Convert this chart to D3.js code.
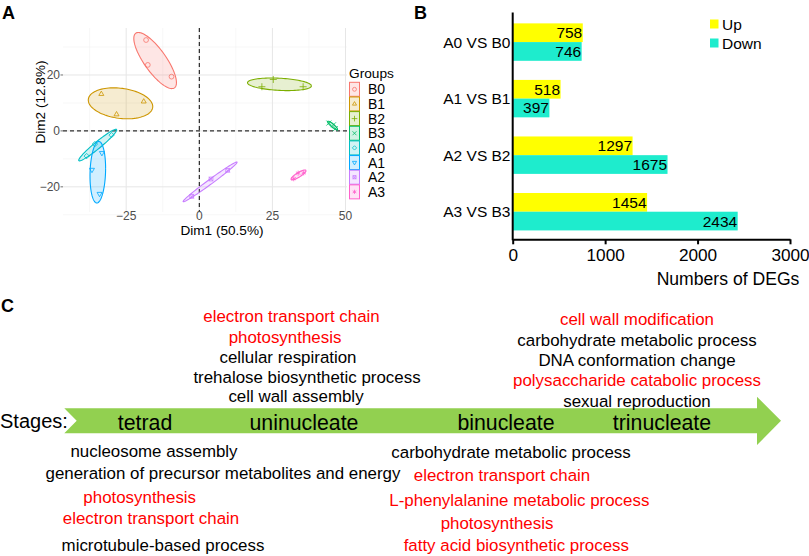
<!DOCTYPE html>
<html>
<head>
<meta charset="utf-8">
<script src="https://cdn.jsdelivr.net/npm/d3@7"></script>
<style>
  body { margin: 0; background: #fff; }
  svg { display: block; font-family: "Liberation Sans", Arial, sans-serif; }
</style>
</head>
<body>
<div id="chart"></div>
<script>
// ---- panel A: PCA individuals ----
const groups = ["B0", "B1", "B2", "B3", "A0", "A1", "A2", "A3"];
const groupColors = ["#F8766D", "#CD9600", "#7CAE00", "#00BE67", "#00BFC4", "#00A9FF", "#C77CFF", "#FF61CC"];
const dim1 = [
  [-18.2, -17.6, -9.5],
  [-33.5, -19.0, -28.3],
  [25.3, 21.4, 35.5],
  [44.3, 45.9, 46.5],
  [-38.5, -35.7, -30.0],
  [-33.3, -36.7, -34.1],
  [-2.6, 4.0, 9.7],
  [32.3, 33.8, 35.7]
];
const dim2 = [
  [32.5, 23.6, 19.4],
  [13.2, 10.5, 5.9],
  [18.4, 15.8, 15.8],
  [2.8, 2.2, 0.8],
  [-9.0, -4.7, -1.5],
  [-7.9, -13.9, -22.5],
  [-23.4, -17.2, -14.1],
  [-17.1, -15.1, -15.0]
];
const dim1Ticks = [-25, 0, 25, 50];
const dim2Ticks = [-20, 0, 20];

// ---- panel B: DEG counts ----
const comparisons = ["A0 VS B0", "A1 VS B1", "A2 VS B2", "A3 VS B3"];
const upCounts = [758, 518, 1297, 1454];
const downCounts = [746, 397, 1675, 2434];
const degTicks = [0, 1000, 2000, 3000];

// ---- panel C: GO terms by stage ----
const stages = ["tetrad", "uninucleate", "binucleate", "trinucleate"];
const uninucleateTerms = ["electron transport chain", "photosynthesis", "cellular respiration", "trehalose biosynthetic process", "cell wall assembly"];
const uninucleateHighlight = [true, true, false, false, false];
const trinucleateTerms = ["cell wall modification", "carbohydrate metabolic process", "DNA conformation change", "polysaccharide catabolic process", "sexual reproduction"];
const trinucleateHighlight = [true, false, false, true, false];
const tetradTerms = ["nucleosome assembly", "generation of precursor metabolites and energy", "photosynthesis", "electron transport chain", "microtubule-based process"];
const tetradHighlight = [false, false, true, true, false];
const binucleateTerms = ["carbohydrate metabolic process", "electron transport chain", "L-phenylalanine metabolic process", "photosynthesis", "fatty acid biosynthetic process"];
const binucleateHighlight = [false, true, true, true, true];

const W = 809, H = 556;
const svg = d3.select("#chart").append("svg").attr("width", W).attr("height", H);
svg.append("rect").attr("width", W).attr("height", H).attr("fill", "#fff");

function panelLetter(t, x, y) {
  svg.append("text").attr("x", x).attr("y", y).attr("font-size", 18).attr("font-weight", "bold").text(t);
}
panelLetter("A", 2, 18.5);
panelLetter("B", 414, 18.5);
panelLetter("C", 1, 312);

// ================= Panel A =================
const px = d3.scaleLinear().domain([-46.6, 50.5]).range([63, 347]);
const py = d3.scaleLinear().domain([36.8, -29]).range([28, 212]);
const gA = svg.append("g");

// grid (major + minor)
const xMinor = [-37.5, -12.5, 12.5, 37.5];
const yMinor = [-30, -10, 10, 30];
gA.selectAll(".vminor").data(xMinor).join("line")
  .attr("x1", d => px(d)).attr("x2", d => px(d)).attr("y1", 28).attr("y2", 212)
  .attr("stroke", "#F2F2F2").attr("stroke-width", 0.6);
gA.selectAll(".hminor").data(yMinor).join("line")
  .attr("x1", 63).attr("x2", 347).attr("y1", d => py(d)).attr("y2", d => py(d))
  .attr("stroke", "#F2F2F2").attr("stroke-width", 0.6);
gA.selectAll(".vmajor").data(dim1Ticks).join("line")
  .attr("x1", d => px(d)).attr("x2", d => px(d)).attr("y1", 28).attr("y2", 212)
  .attr("stroke", "#E6E6E6").attr("stroke-width", 1);
gA.selectAll(".hmajor").data(dim2Ticks).join("line")
  .attr("x1", 63).attr("x2", 347).attr("y1", d => py(d)).attr("y2", d => py(d))
  .attr("stroke", "#E6E6E6").attr("stroke-width", 1);

// tick labels + ticks
gA.selectAll(".xt").data(dim1Ticks).join("text")
  .attr("x", d => px(d)).attr("y", 220).attr("text-anchor", "middle")
  .attr("font-size", 12).attr("fill", "#4D4D4D")
  .text(d => d < 0 ? "\u2212" + Math.abs(d) : d);
gA.selectAll(".yt").data(dim2Ticks).join("text")
  .attr("x", 60).attr("y", d => py(d) + 4).attr("text-anchor", "end")
  .attr("font-size", 12).attr("fill", "#4D4D4D")
  .text(d => d < 0 ? "\u2212" + Math.abs(d) : d);
gA.selectAll(".ytk").data(dim2Ticks).join("line")
  .attr("x1", 60.5).attr("x2", 63).attr("y1", d => py(d)).attr("y2", d => py(d))
  .attr("stroke", "#4D4D4D").attr("stroke-width", 0.8);

// dashed zero lines
gA.append("line").attr("x1", 63).attr("x2", 347).attr("y1", py(0)).attr("y2", py(0))
  .attr("stroke", "#000").attr("stroke-width", 1).attr("stroke-dasharray", "4,3");
gA.append("line").attr("x1", px(0)).attr("x2", px(0)).attr("y1", 28).attr("y2", 211)
  .attr("stroke", "#000").attr("stroke-width", 1).attr("stroke-dasharray", "4,3");

// axis titles
gA.append("text").attr("x", 222).attr("y", 234.5).attr("text-anchor", "middle")
  .attr("font-size", 13.6).text("Dim1 (50.5%)");
gA.append("text").attr("transform", "translate(45,102) rotate(-90)").attr("text-anchor", "middle")
  .attr("font-size", 13.6).text("Dim2 (12.8%)");

// ellipses from point covariance
const ellipseScale = 1.5;
function ellipsePath(xs, ys) {
  const n = xs.length;
  const mx = d3.mean(xs), my = d3.mean(ys);
  let a = 0, b = 0, c = 0;
  for (let i = 0; i < n; i++) {
    const dx = xs[i] - mx, dy = ys[i] - my;
    a += dx * dx; b += dx * dy; c += dy * dy;
  }
  a /= (n - 1); b /= (n - 1); c /= (n - 1);
  const l11 = Math.sqrt(a), l21 = b / l11, l22 = Math.sqrt(Math.max(c - l21 * l21, 1e-6));
  const pts = d3.range(0, 101).map(i => {
    const t = i / 100 * 2 * Math.PI;
    const u = Math.cos(t), v = Math.sin(t);
    return [mx + ellipseScale * l11 * u, my + ellipseScale * (l21 * u + l22 * v)];
  });
  return d3.line().x(d => px(d[0])).y(d => py(d[1]))(pts);
}

const symbolTypes = [d3.symbolCircle, d3.symbolTriangle2, d3.symbolPlus, d3.symbolTimes,
  d3.symbolDiamond2, d3.symbolTriangle2, d3.symbolSquare2, d3.symbolAsterisk];
function drawSymbol(g, i, x, y, size) {
  const s = g.append("path")
    .attr("d", d3.symbol(symbolTypes[i], size)())
    .attr("transform", `translate(${x},${y})` + (i === 5 ? " rotate(180)" : ""))
    .attr("fill", "none").attr("stroke", groupColors[i]).attr("stroke-width", 0.8);
  if (i === 6) {
    g.append("path").attr("d", d3.symbol(d3.symbolTimes, size * 0.8)())
      .attr("transform", `translate(${x},${y})`)
      .attr("fill", "none").attr("stroke", groupColors[i]).attr("stroke-width", 0.7);
  }
  return s;
}

groups.forEach((gName, i) => {
  gA.append("path").attr("d", ellipsePath(dim1[i], dim2[i]))
    .attr("fill", groupColors[i]).attr("fill-opacity", 0.18)
    .attr("stroke", groupColors[i]).attr("stroke-width", 1.1);
});
groups.forEach((gName, i) => {
  dim1[i].forEach((v, j) => drawSymbol(gA, i, px(v), py(dim2[i][j]), 18));
});

// legend
gA.append("text").attr("x", 349).attr("y", 77.5).attr("font-size", 13.7).text("Groups");
groups.forEach((gName, i) => {
  const cy = 89.3 + i * 14.65;
  gA.append("rect").attr("x", 349.5).attr("y", cy - 7).attr("width", 10).attr("height", 14)
    .attr("fill", groupColors[i]).attr("fill-opacity", 0.18)
    .attr("stroke", groupColors[i]).attr("stroke-width", 1);
  drawSymbol(gA, i, 354.5, cy, 12);
  gA.append("text").attr("x", 368).attr("y", cy + 5).attr("font-size", 14).text(gName);
});

// ================= Panel B =================
const gB = svg.append("g");
const bx = d3.scaleLinear().domain([0, 3000]).range([512.7, 790]);
const by = d3.scaleBand().domain(comparisons).range([12.8, 241]).paddingInner(0.338).paddingOuter(0.187);
const bInner = d3.scaleBand().domain(["Up", "Down"]).range([0, by.bandwidth()]);
const upColor = "#FFFF00", downColor = "#1EECCD";

comparisons.forEach((cat, i) => {
  const series = [["Up", upCounts[i], upColor], ["Down", downCounts[i], downColor]];
  series.forEach(([key, val, col]) => {
    const y0 = by(cat) + bInner(key);
    gB.append("rect").attr("x", bx(0)).attr("y", y0)
      .attr("width", bx(val) - bx(0)).attr("height", bInner.bandwidth()).attr("fill", col);
    gB.append("text").attr("x", bx(val) - 0.5).attr("y", y0 + bInner.bandwidth() / 2 + 5.5)
      .attr("text-anchor", "end").attr("font-size", 15.5).text(val);
  });
  gB.append("text").attr("x", 510.5).attr("y", by(cat) + by.bandwidth() / 2 + 5.5)
    .attr("text-anchor", "end").attr("font-size", 15.5).text(cat);
});

const xAxisB = gB.append("g").attr("transform", "translate(0,239.3)")
  .call(d3.axisBottom(bx).tickValues(degTicks).tickSize(5).tickSizeOuter(0).tickFormat(d3.format("d")));
xAxisB.select(".domain").attr("stroke-width", 2);
xAxisB.selectAll(".tick line").attr("stroke-width", 2);
xAxisB.selectAll("text").attr("font-size", 17.2).attr("font-family", "Liberation Sans, Arial, sans-serif")
  .attr("fill", "#000").attr("dy", "0.68em").attr("y", 10.5);
gB.append("line").attr("x1", 512.7).attr("x2", 512.7).attr("y1", 12.5).attr("y2", 240.3)
  .attr("stroke", "#000").attr("stroke-width", 2);
gB.append("text").attr("x", 728).attr("y", 284.5).attr("text-anchor", "middle")
  .attr("font-size", 17.6).text("Numbers of DEGs");

// legend
[["Up", upColor, 24], ["Down", downColor, 43]].forEach(([lab, col, cy]) => {
  gB.append("rect").attr("x", 710).attr("y", cy - 4.5).attr("width", 8.5).attr("height", 9).attr("fill", col);
  gB.append("text").attr("x", 722).attr("y", cy + 5.5).attr("font-size", 15.5).text(lab);
});

// ================= Panel C =================
const gC = svg.append("g");
gC.append("polygon")
  .attr("points", [[64.3, 408.3], [757, 408.3], [757, 396.8], [781, 420.8], [757, 445], [757, 433.3], [64.3, 433.3], [76.7, 420.8]].join(" "))
  .attr("fill", "#92D050");
gC.append("text").attr("x", 0).attr("y", 428).attr("font-size", 20).text("Stages:");

const stageX = [145, 304, 506, 662];
gC.selectAll(".stage").data(stages).join("text")
  .attr("x", (d, i) => stageX[i]).attr("y", 429.5).attr("text-anchor", "middle")
  .attr("font-size", 21.3).text(d => d);

function termBlock(terms, highlight, xs, ys) {
  terms.forEach((t, i) => {
    gC.append("text").attr("x", xs[i]).attr("y", ys[i]).attr("dy", "0.36em")
      .attr("text-anchor", "middle").attr("font-size", 16.9)
      .attr("fill", highlight[i] ? "#FF0000" : "#000").text(t);
  });
}
termBlock(uninucleateTerms, uninucleateHighlight, [291.5, 285, 288, 307, 296], [316, 337.3, 357.3, 376.5, 396]);
termBlock(trinucleateTerms, trinucleateHighlight, [637, 637, 637, 637, 637], [319.3, 339.5, 360, 380, 400.7]);
termBlock(tetradTerms, tetradHighlight, [154, 223, 139.7, 151, 163], [451, 472.7, 496.7, 518.3, 545]);
termBlock(binucleateTerms, binucleateHighlight, [511, 502, 519.3, 497, 516.3], [451.7, 475, 500, 522.7, 545]);
</script>
</body>
</html>
